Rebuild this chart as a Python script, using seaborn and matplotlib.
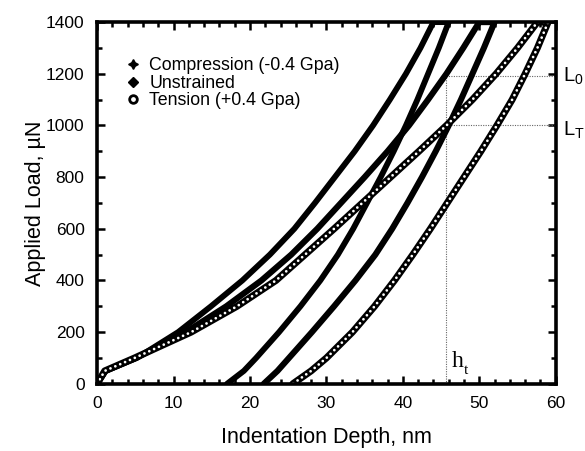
import pandas as pd
import seaborn as sns
import matplotlib.pyplot as plt
from matplotlib.lines import Line2D
from matplotlib.ticker import MultipleLocator

load = [0, 50, 100, 200, 300, 400, 500, 600, 700, 800, 900, 1000, 1100, 1200, 1300, 1400]

# indentation depth (nm) - loading branches
comp_loading = [0, 1.1, 5.2, 10.6, 14.9, 19.0, 22.6, 25.8, 28.5, 31.1, 33.7, 36.1, 38.3, 40.4, 42.3, 44.0]
unstr_loading = [0, 1.1, 5.1, 11.6, 16.9, 21.5, 25.4, 28.8, 31.9, 35.0, 38.0, 40.8, 43.3, 45.7, 47.9, 50.0]
tens_loading = [0, 1.0, 4.9, 12.3, 18.3, 23.4, 27.2, 31.0, 34.7, 38.4, 42.1, 45.7, 49.1, 52.2, 55.0, 57.6]

# indentation depth (nm) - unloading branches
comp_unloading = [17.0, 19.2, 20.8, 23.8, 26.6, 29.2, 31.5, 33.5, 35.3, 37.1, 38.8, 40.4, 41.9, 43.3, 44.7, 46.0]
unstr_unloading = [21.8, 23.6, 25.1, 28.1, 31.0, 33.8, 36.4, 38.6, 40.6, 42.5, 44.3, 46.0, 47.6, 49.1, 50.6, 52.0]
tens_unloading = [25.6, 28.0, 30.0, 33.4, 36.3, 38.9, 41.3, 43.6, 45.8, 48.0, 50.2, 52.3, 54.3, 56.0, 57.6, 59.0]

# guide lines
h_t = 45.7
L_0 = 1190
L_T = 1000

legend_labels = ['Compression (-0.4 Gpa)', 'Unstrained', 'Tension (+0.4 Gpa)']


def loop(loading, unloading):
    # loading branch up, then unloading branch back down
    return pd.DataFrame({'depth': list(loading) + list(unloading)[::-1],
                         'load': load + load[::-1]})


sns.set_style('ticks')
plt.rcParams['font.family'] = ['Liberation Sans', 'DejaVu Sans']
plt.rcParams['mathtext.default'] = 'regular'
for key in ['text.color', 'axes.labelcolor', 'xtick.color', 'ytick.color', 'axes.edgecolor']:
    plt.rcParams[key] = 'black'

fig = plt.figure(figsize=(5.85, 4.51), dpi=100)
ax = fig.add_axes([0.166, 0.149, 0.784, 0.802])

# dotted construction lines
dot = dict(color='#666666', lw=0.8, ls=(0, (1, 1.2)))
ax.plot([h_t, h_t], [0, L_0], **dot)
ax.plot([h_t, 60], [L_0, L_0], **dot)
ax.plot([h_t, 60], [L_T, L_T], **dot)

comp = loop(comp_loading, comp_unloading)
unstr = loop(unstr_loading, unstr_unloading)
tens = loop(tens_loading, tens_unloading)

sns.lineplot(data=comp, x='depth', y='load', sort=False, estimator=None,
             color='black', lw=4.2, ax=ax)
sns.lineplot(data=unstr, x='depth', y='load', sort=False, estimator=None,
             color='black', lw=4.4, ax=ax)
# open-circle chain: thick black line with white dots on top
sns.lineplot(data=tens, x='depth', y='load', sort=False, estimator=None,
             color='black', lw=5.0, ax=ax)
sns.lineplot(data=tens, x='depth', y='load', sort=False, estimator=None,
             color='white', lw=2.0, linestyle=(0, (0.01, 1.9)),
             dash_capstyle='round', ax=ax)

ax.set_xlim(0, 60)
ax.set_ylim(0, 1400)
ax.xaxis.set_major_locator(MultipleLocator(10))
ax.xaxis.set_minor_locator(MultipleLocator(2))
ax.yaxis.set_major_locator(MultipleLocator(200))
ax.yaxis.set_minor_locator(MultipleLocator(100))
ax.tick_params(which='both', direction='in', top=True, right=True,
               width=1.8, labelsize=12.5, pad=9)
ax.tick_params(which='major', length=6)
ax.tick_params(which='minor', length=3.5)
for s in ax.spines.values():
    s.set_linewidth(2.6)

ax.set_xlabel('Indentation Depth, nm', fontsize=15.5, labelpad=11)
ax.set_ylabel('Applied Load, µN', fontsize=15.5, labelpad=0)

ax.text(60.9, L_0, 'L$_0$', fontsize=14.5, va='center', ha='left', clip_on=False)
ax.text(60.9, L_T - 20, 'L$_T$', fontsize=14.5, va='center', ha='left', clip_on=False)
ax.text(46.4, 45, 'h', fontsize=17, family='Liberation Serif', va='bottom')
ax.text(48.0, 25, 't', fontsize=11, family='Liberation Serif', va='bottom')

handles = [
    Line2D([], [], ls='none', marker=(4, 1, 0), ms=7, color='black'),
    Line2D([], [], ls='none', marker='D', ms=5.5, color='black'),
    Line2D([], [], ls='none', marker='o', ms=5.5, mfc='white', mec='black', mew=2),
]
ax.legend(handles, legend_labels, loc='upper left', bbox_to_anchor=(0.048, 0.922),
          frameon=False, fontsize=12.8, handlelength=0.8, handletextpad=0.5,
          labelspacing=0.02, borderaxespad=0)

plt.savefig('out.png', dpi=100)
